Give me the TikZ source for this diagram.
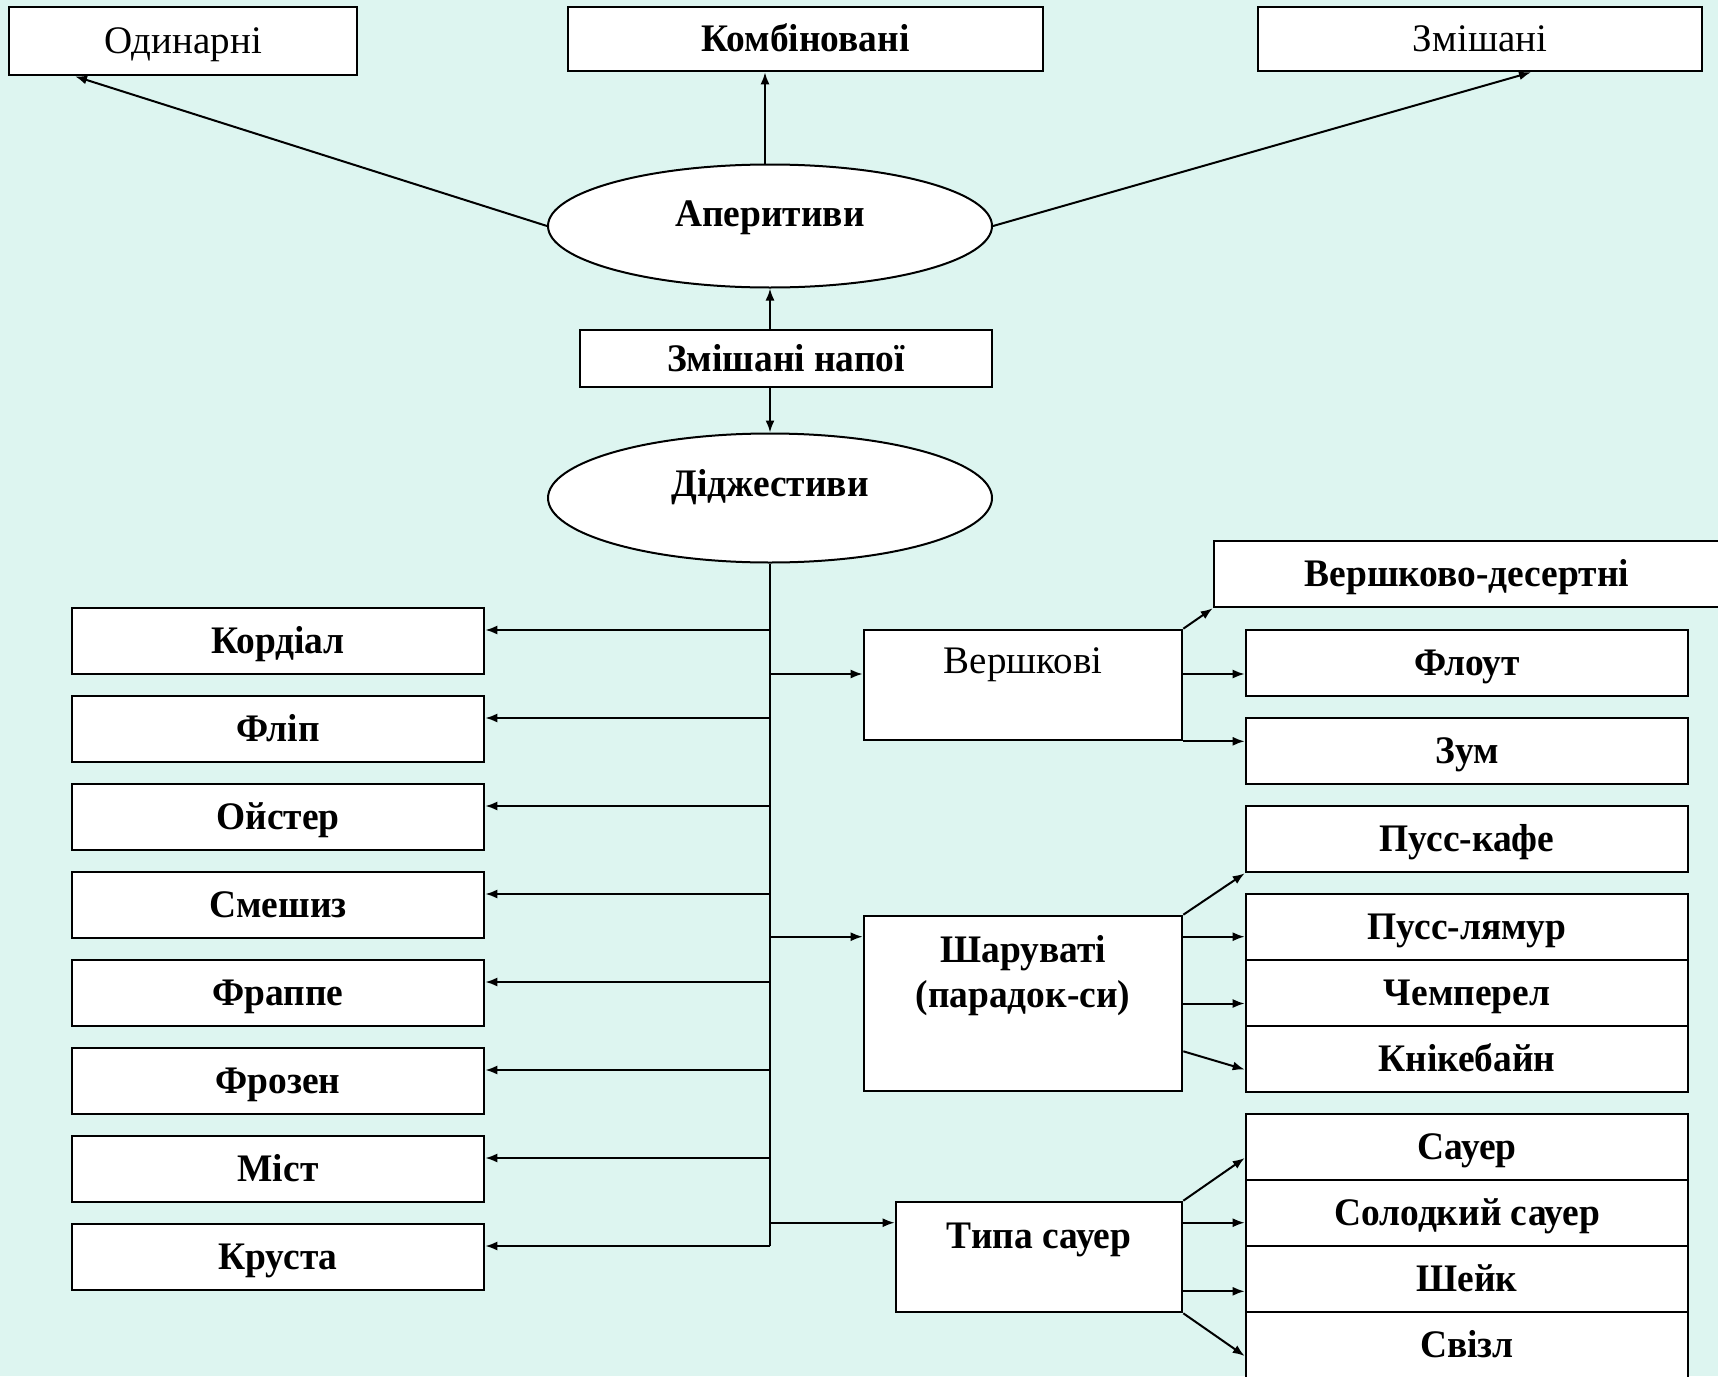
\documentclass[tikz,border=0pt]{standalone}
\usepackage{fontspec}
\setmainfont{Liberation Serif}[BoldFeatures={FakeStretch=0.96}]
\usetikzlibrary{arrows.meta,shapes.geometric}
\definecolor{mint}{RGB}{221,245,240}
\tikzset{
	box/.style={draw, line width=1.3pt, fill=white, inner sep=0pt, minimum height=33pt, text height=12.9pt, text depth=0pt, font=\fontsize{19.5pt}{22.5pt}\selectfont\bfseries},
	thinbox/.style={box, font=\fontsize{19.5pt}{22.5pt}\selectfont},
	oval/.style={draw, ellipse, line width=1pt, fill=white, inner sep=0pt, minimum width=222pt, font=\fontsize{19.5pt}{22.5pt}\selectfont\bfseries},
	arr/.style={line width=1pt, -{Latex[length=6pt,width=4.5pt]}},
	trunk/.style={line width=1pt}
}

\begin{document}
\begin{tikzpicture}[x=0.5pt, y=-0.5pt]
			%%%%% START %%%%%
			
			\path[use as bounding box, fill=mint] (0,0) rectangle (1718,1376);
			
			\node[thinbox, minimum width=174pt, minimum height=34pt] (odin) at (183,41) {Одинарні};
			\node[box, minimum width=237.5pt, minimum height=32pt] (komb) at (805.5,39) {Комбіновані};
			\node[thinbox, minimum width=222pt, minimum height=32pt] (zmish) at (1480,39) {Змішані};
			
			\node[oval, minimum height=61.5pt, text height=8pt, text depth=8pt] (aper) at (770,226) {Аперитиви};
			\node[box, minimum width=206pt, minimum height=28.5pt] (napoi) at (786,358.5) {Змішані напої};
			\node[oval, minimum height=64.5pt, text height=8pt, text depth=10pt] (dig) at (770,498) {Діджестиви};
			
			\node[box, minimum width=206pt] (kord) at (278,641) {Кордіал};
			\node[box, minimum width=206pt] (flip) at (278,729) {Фліп};
			\node[box, minimum width=206pt] (oist) at (278,817) {Ойстер};
			\node[box, minimum width=206pt] (smesh) at (278,905) {Смешиз};
			\node[box, minimum width=206pt] (frap) at (278,993) {Фраппе};
			\node[box, minimum width=206pt] (froz) at (278,1081) {Фрозен};
			\node[box, minimum width=206pt] (mist) at (278,1169) {Міст};
			\node[box, minimum width=206pt] (krust) at (278,1257) {Круста};
			
			\node[thinbox, minimum width=159pt, text height=21.5pt, text depth=33.5pt] (versh) at (1023,685) {Вершкові};
			\node[box, minimum width=159pt, text height=23pt, text depth=64.5pt] (shar) at (1023,1003.5) {\begin{tabular}[t]{@{}c@{}}Шаруваті\\(парадок-си)\end{tabular}};
			\node[box, minimum width=143pt, text height=23pt, text depth=32pt] (tipa) at (1039,1257) {Типа сауер};
			
			\node[box, minimum width=253pt] (vdes) at (1467,574) {Вершково-десертні};
			\node[box, minimum width=221pt] (flout) at (1467,663) {Флоут};
			\node[box, minimum width=221pt] (zum) at (1467,751) {Зум};
			\node[box, minimum width=221pt] (puss1) at (1467,839) {Пусс-кафе};
			\node[box, minimum width=221pt] (puss2) at (1467,927) {Пусс-лямур};
			\node[box, minimum width=221pt] (chemp) at (1467,993) {Чемперел};
			\node[box, minimum width=221pt] (kni) at (1467,1059) {Кнікебайн};
			\node[box, minimum width=221pt] (sauer) at (1467,1147) {Сауер};
			\node[box, minimum width=221pt] (solod) at (1467,1213) {Солодкий сауер};
			\node[box, minimum width=221pt] (sheik) at (1467,1279) {Шейк};
			\node[box, minimum width=221pt] (svizl) at (1467,1345) {Свізл};
			
			\draw[arr] (aper.west) -- ([xshift=-54pt]odin.south);
			\draw[arr] ([xshift=-2.5pt]aper.north) -- ([xshift=-2.5pt]aper.north |- komb.south);
			\draw[arr] (aper.east) -- ([xshift=25.5pt]zmish.south);
			\draw[arr] (aper.south |- napoi.north) -- (aper.south);
			\draw[arr] (dig.north |- napoi.south) -- (dig.north);
			
			\draw[trunk] (dig.south) -- ([yshift=5.5pt]krust.east -| dig.south);
			\draw[arr] ([yshift=5.5pt]kord.east -| dig.south) -- ([yshift=5.5pt]kord.east);
			\draw[arr] ([yshift=5.5pt]flip.east -| dig.south) -- ([yshift=5.5pt]flip.east);
			\draw[arr] ([yshift=5.5pt]oist.east -| dig.south) -- ([yshift=5.5pt]oist.east);
			\draw[arr] ([yshift=5.5pt]smesh.east -| dig.south) -- ([yshift=5.5pt]smesh.east);
			\draw[arr] ([yshift=5.5pt]frap.east -| dig.south) -- ([yshift=5.5pt]frap.east);
			\draw[arr] ([yshift=5.5pt]froz.east -| dig.south) -- ([yshift=5.5pt]froz.east);
			\draw[arr] ([yshift=5.5pt]mist.east -| dig.south) -- ([yshift=5.5pt]mist.east);
			\draw[arr] ([yshift=5.5pt]krust.east -| dig.south) -- ([yshift=5.5pt]krust.east);
			
			\draw[arr] ([yshift=5.5pt]versh.west -| dig.south) -- ([yshift=5.5pt]versh.west);
			\draw[arr] ([yshift=-11pt]shar.north west -| dig.south) -- ([yshift=-11pt]shar.north west);
			\draw[arr] ([yshift=-11pt]tipa.north west -| dig.south) -- ([yshift=-11pt]tipa.north west);
			
			\draw[arr] (versh.north east) -- (vdes.south west);
			\draw[arr] ([yshift=5.5pt]versh.east) -- ([yshift=5.5pt]versh.east -| flout.west);
			\draw[arr] (versh.south east) -- (versh.south east -| zum.west);
			
			\draw[arr] (shar.north east) -- (puss1.south west);
			\draw[arr] ([yshift=-11pt]shar.north east) -- ([yshift=-11pt]shar.north east -| puss2.west);
			\draw[arr] (shar.east) -- (shar.east -| chemp.west);
			\draw[arr] ([yshift=20.5pt]shar.south east) -- ([yshift=-5.25pt]kni.west);
			
			\draw[arr] (tipa.north east) -- ([yshift=-5.5pt]sauer.west);
			\draw[arr] ([yshift=-11pt]tipa.north east) -- ([yshift=-11pt]tipa.north east -| solod.west);
			\draw[arr] ([yshift=11pt]tipa.south east) -- ([yshift=11pt]tipa.south east -| sheik.west);
			\draw[arr] (tipa.south east) -- ([yshift=-5.5pt]svizl.west);
			
			%%%%% END %%%%%
		\end{tikzpicture}
\end{document}
